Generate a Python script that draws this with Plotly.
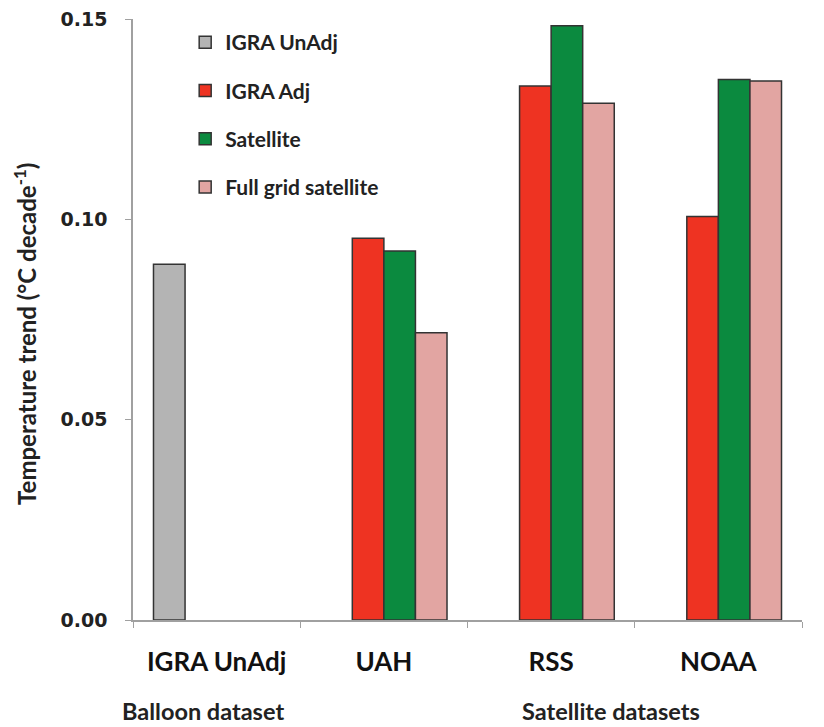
import plotly.graph_objects as go

categories = ["IGRA UnAdj", "UAH", "RSS", "NOAA"]
igra_unadj = [0.0888, None, None, None]
igra_adj = [None, 0.0953, 0.1333, 0.1007]
satellite = [None, 0.0921, 0.1483, 0.1349]
full_grid = [None, 0.0717, 0.1290, 0.1345]
series_names = ["IGRA UnAdj", "IGRA Adj", "Satellite", "Full grid satellite"]
series_values = [igra_unadj, igra_adj, satellite, full_grid]
colors = ["#b4b4b4", "#ee3322", "#0b8a3f", "#e2a5a2"]
y_ticks = [0.0, 0.05, 0.10, 0.15]
y_title = "Temperature trend (°C decade<sup>-1</sup>)"
group_labels = ["Balloon dataset", "Satellite datasets"]

FONT = "Lato"

fig = go.Figure()
for i, (name, vals, col) in enumerate(zip(series_names, series_values, colors)):
    fig.add_trace(go.Bar(
        x=categories, y=vals, name=name, legendgroup=f"g{i}",
        marker=dict(color=col, line=dict(color="#333333", width=1.5)),
    ))

fig.update_layout(
    width=816, height=719,
    margin=dict(l=125, r=22, t=11, b=107, autoexpand=False),
    plot_bgcolor="white", paper_bgcolor="white",
    barmode="group", bargap=0.245, bargroupgap=0,
    font=dict(family=FONT, color="#222222"),
    legend=dict(
        x=0.078, y=0.995, xanchor="left", yanchor="top",
        font=dict(family=FONT, size=21, color="#222222", weight="bold"),
        tracegroupgap=18, bgcolor="rgba(0,0,0,0)",
    ),
    xaxis=dict(
        automargin=False,
        showline=True, linecolor="#a0a0a0", linewidth=1.5,
        ticks="outside", tickson="boundaries", ticklen=6, tickcolor="#a0a0a0",
        tickfont=dict(family=FONT, size=26, color="#111111", weight="bold"),
        ticklabelstandoff=18,
    ),
    yaxis=dict(
        automargin=False,
        range=[0, 0.15], tickvals=y_ticks, tickformat=".2f",
        showline=True, linecolor="#a0a0a0", linewidth=1.5,
        ticks="outside", ticklen=6, tickcolor="#a0a0a0",
        showgrid=False, zeroline=False, ticklabeloverflow="allow",
        tickfont=dict(family="DejaVu Sans", size=19, color="#222222", weight="bold"),
        ticklabelstandoff=14,
    ),
)

fig.add_annotation(text=y_title, textangle=-90, x=-0.1614, y=0.476,
                   xref="paper", yref="paper", showarrow=False,
                   xanchor="center", yanchor="middle",
                   font=dict(family=FONT, size=24, color="#222222", weight="bold"))

for txt, xp in zip(group_labels, [0.104, 0.714]):
    fig.add_annotation(text=txt, x=xp, y=-0.151, xref="paper", yref="paper",
                       showarrow=False, xanchor="center", yanchor="middle",
                       font=dict(family=FONT, size=23.5, color="#222222", weight="bold"))

fig.write_html("out.html")
